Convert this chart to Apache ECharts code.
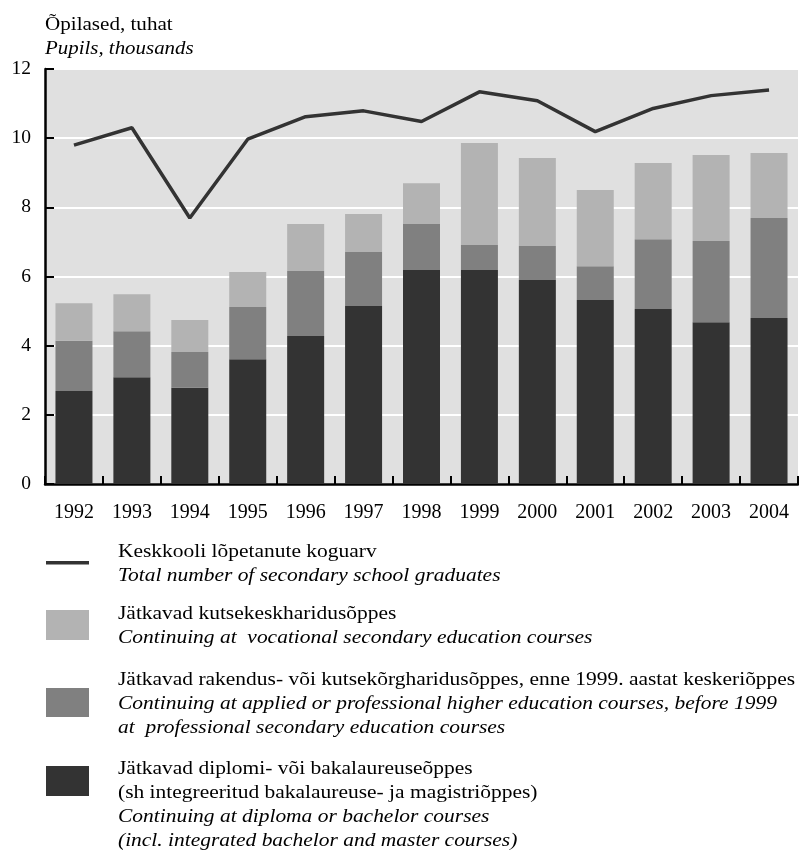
<!DOCTYPE html>
<html>
<head>
<meta charset="utf-8">
<script src="https://cdn.jsdelivr.net/npm/echarts@6/dist/echarts.min.js"></script>
<style>
html,body{margin:0;padding:0;background:#fff;}
#main{width:799px;height:852px;}
</style>
</head>
<body>
<div id="main"></div>
<script>
var years = ['1992','1993','1994','1995','1996','1997','1998','1999','2000','2001','2002','2003','2004'];
// stacked segments (thousands)
var diplomaBachelor = [2.69,3.09,2.78,3.61,4.28,5.15,6.19,6.19,5.90,5.32,5.06,4.68,4.80];
var appliedHigher   = [1.45,1.33,1.04,1.51,1.88,1.56,1.33,0.72,0.98,0.98,2.02,2.35,2.89];
var vocational      = [1.09,1.07,0.92,1.01,1.36,1.10,1.18,2.95,2.55,2.20,2.20,2.48,1.88];
var totalGraduates  = [9.80,10.30,7.69,9.97,10.62,10.79,10.48,11.34,11.08,10.19,10.86,11.23,11.39];
var yTicks = [0,2,4,6,8,10,12];

var FONT = '"Liberation Serif","DejaVu Serif",serif';
var cDark = '#333333', cMid = '#808080', cLight = '#b3b3b3';

var chart = echarts.init(document.getElementById('main'), null, {renderer:'canvas'});

function txt(x, y, s, italic, size, sx) {
  return {type:'text', x:x, y:y, scaleX:sx||1.16, scaleY:1,
    style:{text:s, font:(italic?'italic ':'')+(size||18.5)+'px '+FONT, fill:'#000',
      textVerticalAlign:'middle', verticalAlign:'middle', textAlign:'left', align:'left'}};
}
var lx = 118;
var graphics = [
  txt(45, 25, 'Õpilased, tuhat', false, 19, 1.11),
  txt(45, 49, 'Pupils, thousands', true, 19, 1.1),
  // legend item 1
  {type:'rect', shape:{x:46, y:561, width:43, height:3.5}, style:{fill:cDark}},
  txt(lx, 552, 'Keskkooli lõpetanute koguarv'),
  txt(lx, 576, 'Total number of secondary school graduates', true),
  // legend item 2
  {type:'rect', shape:{x:46, y:610, width:43, height:30}, style:{fill:cLight}},
  txt(lx, 614, 'Jätkavad kutsekeskharidusõppes'),
  txt(lx, 638, 'Continuing at  vocational secondary education courses', true),
  // legend item 3
  {type:'rect', shape:{x:46, y:688, width:43, height:29}, style:{fill:cMid}},
  txt(lx, 680, 'Jätkavad rakendus- või kutsekõrgharidusõppes, enne 1999. aastat keskeriõppes'),
  txt(lx, 704, 'Continuing at applied or professional higher education courses, before 1999', true),
  txt(lx, 728, 'at  professional secondary education courses', true),
  // legend item 4
  {type:'rect', shape:{x:46, y:766, width:43, height:30}, style:{fill:cDark}},
  txt(lx, 769, 'Jätkavad diplomi- või bakalaureuseõppes'),
  txt(lx, 793, '(sh integreeritud bakalaureuse- ja magistriõppes)'),
  txt(lx, 817, 'Continuing at diploma or bachelor courses', true),
  txt(lx, 841, '(incl. integrated bachelor and master courses)', true)
];

var option = {
  animation:false,
  backgroundColor:'#ffffff',
  textStyle:{fontFamily:FONT},
  grid:{left:45, right:1, top:69, bottom:368, show:true, backgroundColor:'#e0e0e0', borderWidth:0, containLabel:false},
  xAxis:{
    type:'category', data:years, boundaryGap:true,
    axisLine:{show:true, lineStyle:{color:'#000', width:2.5}},
    axisTick:{show:true, inside:true, length:8, alignWithLabel:false, lineStyle:{color:'#000', width:2}},
    axisLabel:{color:'#000', fontSize:20, fontFamily:FONT, margin:19}
  },
  yAxis:{
    type:'value', min:0, max:12, interval:2,
    axisLine:{show:true, lineStyle:{color:'#000', width:2.5}},
    axisTick:{show:true, inside:true, length:9, lineStyle:{color:'#000', width:2}},
    axisLabel:{color:'#000', fontSize:19.5, fontFamily:FONT, margin:14,
      formatter:function(v){return yTicks.indexOf(v)>=0 ? String(v) : '';}},
    splitLine:{show:true, lineStyle:{color:'#ffffff', width:2}}
  },
  series:[
    {name:'Jätkavad diplomi- või bakalaureuseõppes', type:'bar', stack:'s', data:diplomaBachelor, barWidth:37, itemStyle:{color:cDark}},
    {name:'Jätkavad rakendus- või kutsekõrgharidusõppes', type:'bar', stack:'s', data:appliedHigher, barWidth:37, itemStyle:{color:cMid}},
    {name:'Jätkavad kutsekeskharidusõppes', type:'bar', stack:'s', data:vocational, barWidth:37, itemStyle:{color:cLight}},
    {name:'Keskkooli lõpetanute koguarv', type:'line', data:totalGraduates, symbol:'none', lineStyle:{color:cDark, width:3.5}, itemStyle:{color:cDark}, z:5}
  ],
  graphic:graphics
};
chart.setOption(option);
</script>
</body>
</html>
